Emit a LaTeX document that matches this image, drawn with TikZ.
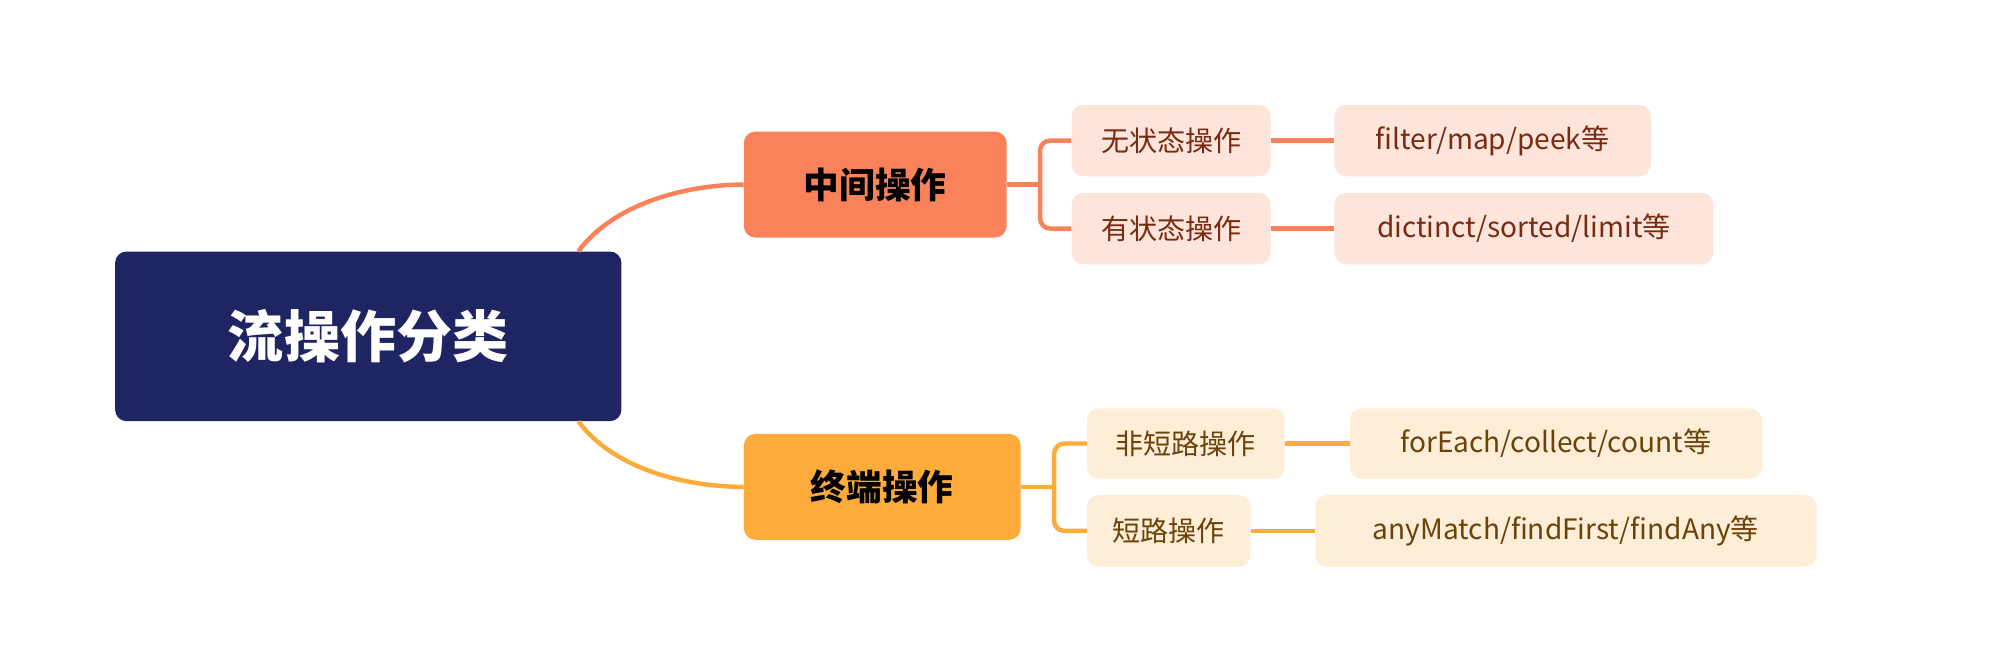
\documentclass[tikz,border=0pt]{standalone}
\usepackage{fontspec}
\setmainfont{Noto Sans CJK SC}
\begin{document}
\begin{tikzpicture}[x=1pt,y=-1pt,
  box/.style={rounded corners=9pt,inner sep=0pt,anchor=north west},
  leafA/.style={box,fill=orangeL,text=redT,font=\fontsize{22}{24}\selectfont},
  leafB/.style={box,fill=yellowL,text=brownT,font=\fontsize{22}{24}\selectfont},
  conA/.style={draw=orangeM,line width=3.5pt},
  conB/.style={draw=yellowM,line width=3.5pt}]
\definecolor{navy}{HTML}{1F2563}
\definecolor{orangeM}{HTML}{F9825A}
\definecolor{yellowM}{HTML}{FDAC3B}
\definecolor{orangeL}{HTML}{FDE5DC}
\definecolor{yellowL}{HTML}{FEEED7}
\definecolor{redT}{HTML}{7A2A10}
\definecolor{brownT}{HTML}{6B4208}
\useasboundingbox (0,0) rectangle (1568,506);
\node[box,fill=navy,text=white,minimum width=397pt,minimum height=133pt,font=\fontsize{44}{48}\selectfont\bfseries] (root) at (90,197) {流操作分类};
\node[box,fill=orangeM,minimum width=206pt,minimum height=83pt,font=\fontsize{28}{30}\selectfont\bfseries] (mid) at (583,103) {中间操作};
\node[box,fill=yellowM,minimum width=217pt,minimum height=83pt,font=\fontsize{28}{30}\selectfont\bfseries] (term) at (583,340) {终端操作};
\node[leafA,minimum width=156pt,minimum height=56pt] (a1) at (840,82) {无状态操作};
\node[leafA,minimum width=156pt,minimum height=56pt] (a2) at (840,151) {有状态操作};
\node[leafA,minimum width=248pt,minimum height=56pt] (b1) at (1046,82) {filter/map/peek等};
\node[leafA,minimum width=297pt,minimum height=56pt] (b2) at (1046,151) {dictinct/sorted/limit等};
\node[leafB,minimum width=155pt,minimum height=55pt] (c1) at (852,320) {非短路操作};
\node[leafB,minimum width=128pt,minimum height=56pt] (c2) at (852,388) {短路操作};
\node[leafB,minimum width=323pt,minimum height=55pt] (d1) at (1058,320) {forEach/collect/count等};
\node[leafB,minimum width=393pt,minimum height=56pt] (d2) at (1031,388) {anyMatch/findFirst/findAny等};
\draw[conA] ([xshift=-34pt]root.north east) .. controls +(30,-40) and +(-40,0) .. (mid.west);
\draw[conB] ([xshift=-34pt]root.south east) .. controls +(30,40) and +(-40,0) .. (term.west);
\coordinate (ma) at ([xshift=26pt]mid.east);
\draw[conA] (mid.east) -- (ma);
\draw[conA,rounded corners=8pt] (a1.west) -| (ma) |- (a2.west);
\coordinate (tb) at ([xshift=26pt]term.east);
\draw[conB] (term.east) -- (tb);
\draw[conB,rounded corners=8pt] (c1.west) -| (tb) |- (c2.west);
\draw[conA] (a1) -- (b1); \draw[conA] (a2) -- (b2);
\draw[conB] (c1) -- (d1); \draw[conB] (c2) -- (d2);
\end{tikzpicture}
\end{document}
